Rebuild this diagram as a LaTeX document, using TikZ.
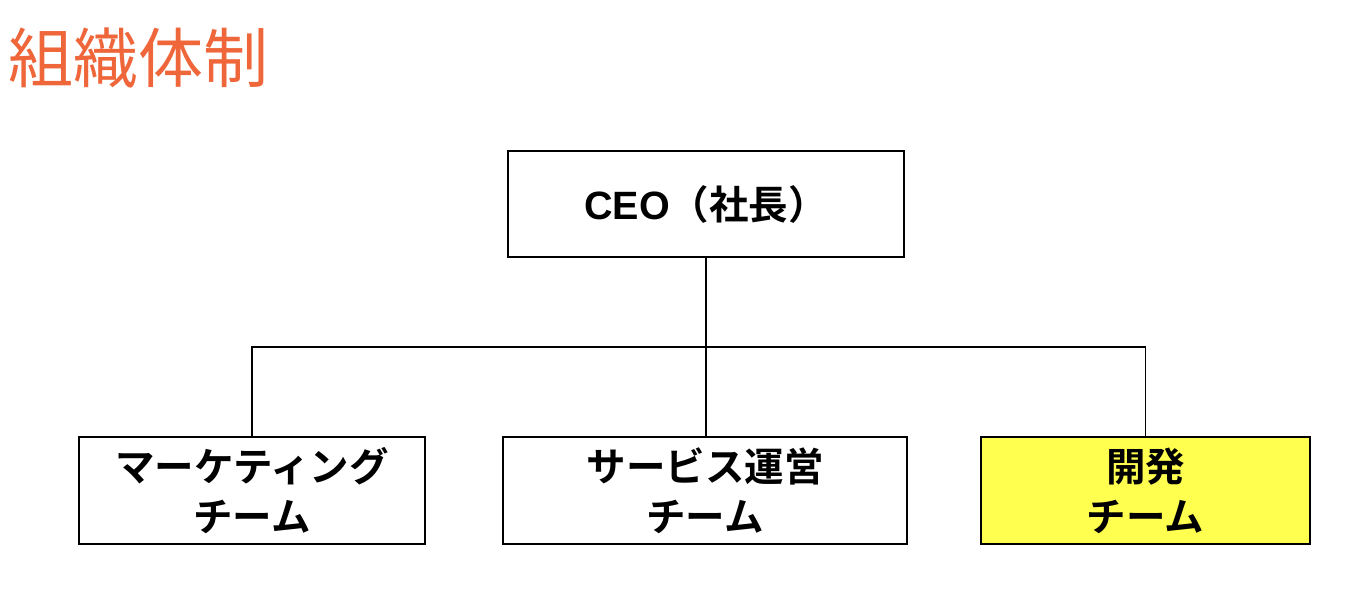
\documentclass[tikz,border=0pt]{standalone}
\usepackage{fontspec}
\newfontfamily\cjk{Noto Sans CJK JP}
\newfontfamily\cjkb{Noto Sans CJK JP Bold}
\newfontfamily\lat{Liberation Sans}[BoldFont={* Bold}]
\definecolor{titleorange}{RGB}{238,102,58}
\definecolor{devyellow}{RGB}{255,255,80}
\tikzset{
  orgbox/.style={draw=black, line width=1.3pt, fill=white, inner sep=0pt,
    align=center, font=\cjkb\fontsize{39.5}{50}\selectfont},
  link/.style={draw=black, line width=1.3pt}
}
\begin{document}
\begin{tikzpicture}[x=1pt,y=-1pt]
\useasboundingbox (0,0) rectangle (1370,602);
\node[anchor=west, text=titleorange, inner sep=0pt, font=\cjk\fontsize{65}{70}\selectfont] (title) at (8,58) {組織体制};
\node[orgbox, minimum width=396pt, minimum height=106pt] (ceo) at (706,204) {{\lat\bfseries CEO}（社長）};
\node[orgbox, minimum width=346pt, minimum height=107pt] (mkt) at (252,490.5) {マーケティング\\チーム};
\node[orgbox, minimum width=404pt, minimum height=107pt] (svc) at (705,490.5) {サービス運営\\チーム};
\node[orgbox, fill=devyellow, minimum width=329pt, minimum height=107pt] (dev) at (1145.5,490.5) {開発\\チーム};
\coordinate (j) at (706,347);
\draw[link] (ceo.south) -- (j);
\draw[link] (mkt.north) |- (j) -| (dev.north);
\draw[link] (j) -- (j |- svc.north);
\end{tikzpicture}
\end{document}
